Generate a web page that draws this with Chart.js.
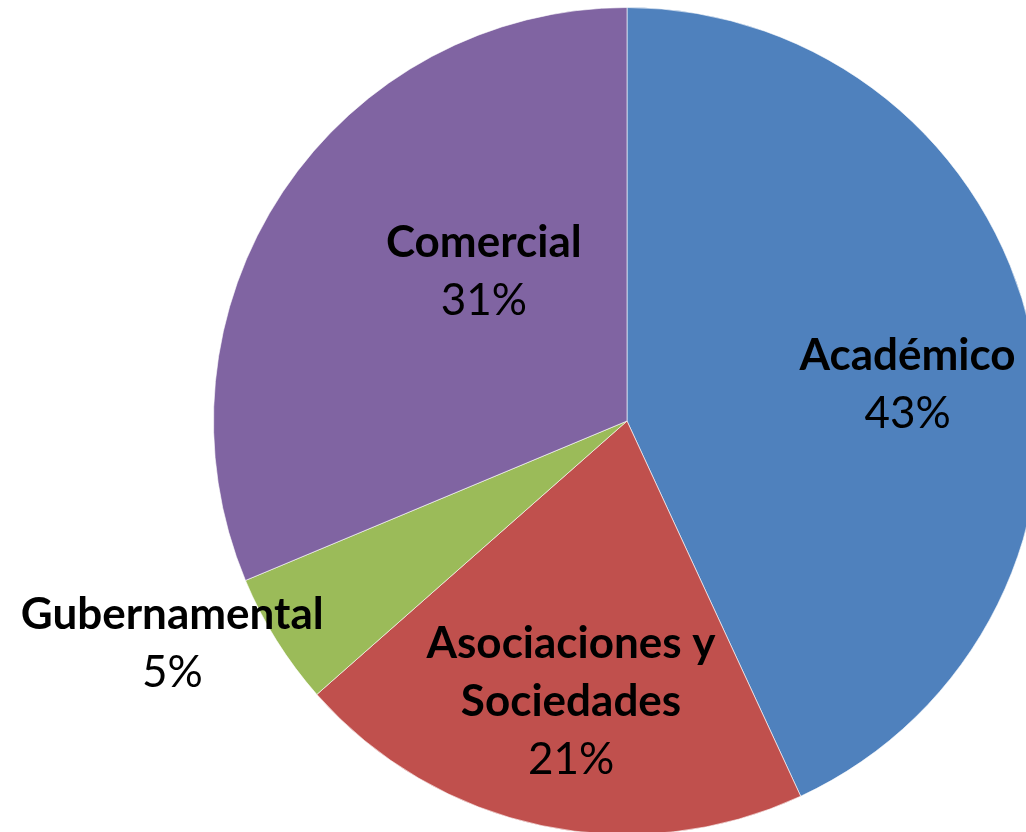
<!DOCTYPE html>
<html>
<head>
<meta charset="utf-8">
<script src="https://cdn.jsdelivr.net/npm/chart.js@4"></script>
<style>
    html, body { margin: 0; padding: 0; background: #fff; overflow: hidden; }
    #frame { width: 1026px; height: 832px; overflow: hidden; position: relative; }
    #box { width: 1254px; height: 842px; position: absolute; left: 0; top: 0; }
</style>
</head>
<body>
<div id="frame"><div id="box"><canvas id="pie-chart"></canvas></div></div>
<script>
const categories = ['Académico', 'Asociaciones y Sociedades', 'Gubernamental', 'Comercial'];
const labelLines = [['Académico'], ['Asociaciones y', 'Sociedades'], ['Gubernamental'], ['Comercial']];
const shares = [43.1, 20.4, 5.2, 31.3];
const percentText = ['43%', '21%', '5%', '31%'];
const colors = ['#4F81BD', '#C0504D', '#9BBB59', '#8064A2'];

// where each label sits: turn from slice middle (deg) and distance as part of the radius
const labelPlace = [
    { turn: 5.1, dist: 0.684 },
    { turn: -0.6, dist: 0.692 },
    { turn: 5.9, dist: 1.225 },
    { turn: 12.5, dist: 0.50 }
];

const FONT = 'Lato, "Open Sans", sans-serif';
const FONT_SIZE = 44;
const LINE = 58;

const sliceLabels = {
    id: 'sliceLabels',
    afterDatasetsDraw(chart) {
        const ctx = chart.ctx;
        const meta = chart.getDatasetMeta(0);
        ctx.save();
        ctx.fillStyle = '#000';
        ctx.textAlign = 'center';
        ctx.textBaseline = 'middle';
        meta.data.forEach(function (arc, i) {
            const p = arc.getProps(['x', 'y', 'startAngle', 'endAngle', 'outerRadius'], true);
            const mid = (p.startAngle + p.endAngle) / 2 + labelPlace[i].turn * Math.PI / 180;
            const r = p.outerRadius * labelPlace[i].dist;
            const cx = p.x + Math.cos(mid) * r;
            const cy = p.y + Math.sin(mid) * r;
            const lines = labelLines[i];
            const n = lines.length + 1;
            let y = cy - (n - 1) * LINE / 2;
            ctx.font = 'bold ' + FONT_SIZE + 'px ' + FONT;
            lines.forEach(function (t) {
                ctx.fillText(t, cx, y);
                y += LINE;
            });
            ctx.font = FONT_SIZE + 'px ' + FONT;
            ctx.fillText(percentText[i], cx, y);
        });
        ctx.restore();
    }
};

new Chart(document.getElementById('pie-chart').getContext('2d'), {
    type: 'pie',
    data: {
        labels: categories,
        datasets: [{
            data: shares,
            backgroundColor: colors,
            borderColor: 'rgba(255,255,255,0.6)',
            borderWidth: 1
        }]
    },
    options: {
        responsive: true,
        maintainAspectRatio: false,
        animation: false,
        layout: { padding: { left: 213, right: 213, top: 7, bottom: 7 } },
        plugins: {
            legend: { display: false },
            tooltip: { enabled: false }
        }
    },
    plugins: [sliceLabels]
});
</script>
</body>
</html>
